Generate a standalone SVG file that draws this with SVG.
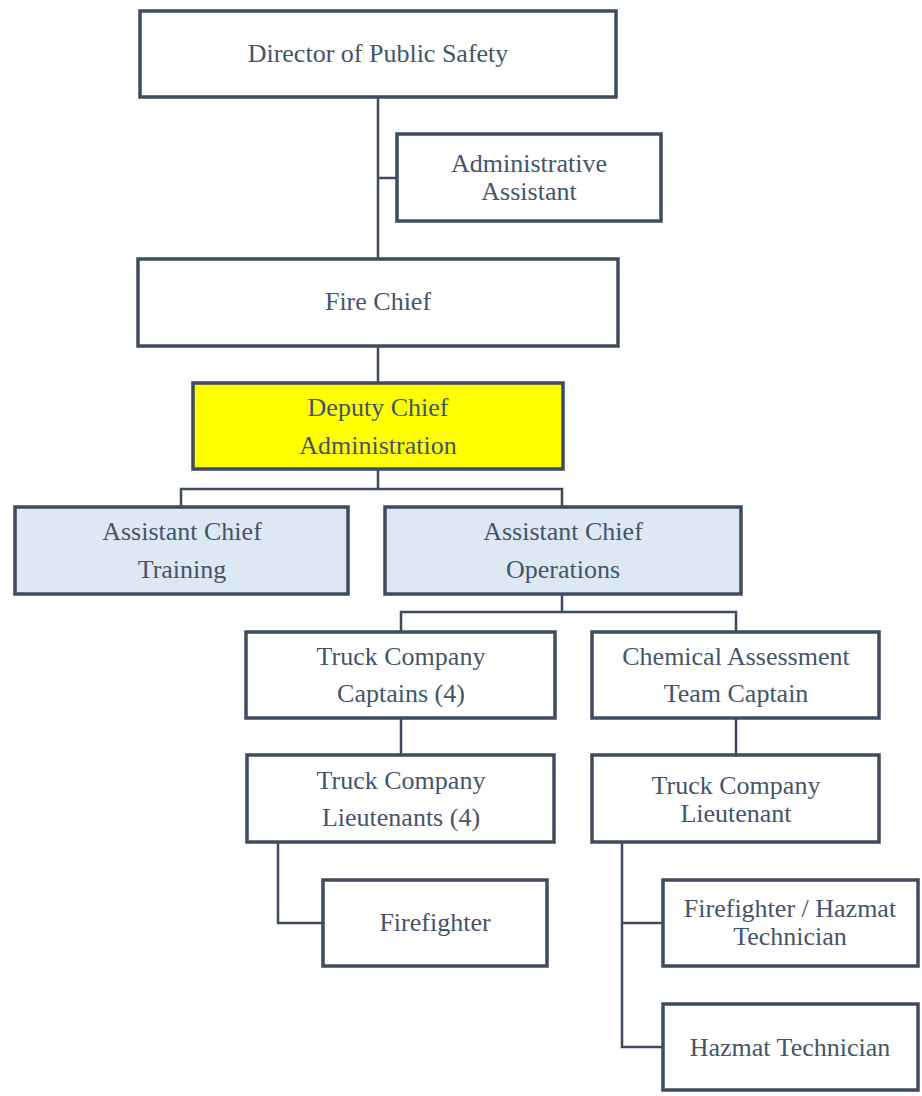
<svg xmlns="http://www.w3.org/2000/svg" width="922" height="1096" viewBox="0 0 922 1096">
<style>
.box{fill:#ffffff;stroke:#3f4b5e;stroke-width:3.5}
.yel{fill:#ffff00}
.blu{fill:#dde8f4}
.t{font-family:'Liberation Serif','DejaVu Serif',serif;font-size:26px;fill:#44546a;text-anchor:middle}
.c{fill:none;stroke:#3f4b5e;stroke-width:2.5}
</style>
<rect width="922" height="1096" fill="#ffffff"/>
<g id="connectors">
<path class="c" d="M378 97V259M378 178H397"/>
<path class="c" d="M378 346V383"/>
<path class="c" d="M378 469V489M181 507V489H562V507"/>
<path class="c" d="M562 594V612M401 632V612H736V632"/>
<path class="c" d="M401 718V755M736 718V755"/>
<path class="c" d="M278 842V923H323"/>
<path class="c" d="M622 842V1047H663M622 923H663"/>
</g>
<g id="director"><rect class="box" x="140" y="11" width="476" height="86"/><text class="t" x="378" y="62">Director of Public Safety</text></g>
<g id="admin-assistant"><rect class="box" x="397" y="134" width="264" height="87"/><text class="t" x="529" y="172">Administrative</text><text class="t" x="529" y="200">Assistant</text></g>
<g id="fire-chief"><rect class="box" x="138" y="259" width="480" height="87"/><text class="t" x="378" y="310">Fire Chief</text></g>
<g id="deputy-chief"><rect class="box yel" x="193" y="383" width="370" height="86"/><text class="t" x="378" y="416">Deputy Chief</text><text class="t" x="378" y="454">Administration</text></g>
<g id="ac-training"><rect class="box blu" x="15" y="507" width="333" height="87"/><text class="t" x="182" y="540">Assistant Chief</text><text class="t" x="182" y="578">Training</text></g>
<g id="ac-operations"><rect class="box blu" x="385" y="507" width="356" height="87"/><text class="t" x="563" y="540">Assistant Chief</text><text class="t" x="563" y="578">Operations</text></g>
<g id="truck-captains"><rect class="box" x="246" y="632" width="309" height="86"/><text class="t" x="401" y="665">Truck Company</text><text class="t" x="401" y="702">Captains (4)</text></g>
<g id="chem-captain"><rect class="box" x="592" y="632" width="287" height="86"/><text class="t" x="736" y="665">Chemical Assessment</text><text class="t" x="736" y="702">Team Captain</text></g>
<g id="truck-lieutenants"><rect class="box" x="247" y="755" width="307" height="87"/><text class="t" x="401" y="789">Truck Company</text><text class="t" x="401" y="826">Lieutenants (4)</text></g>
<g id="truck-lieutenant"><rect class="box" x="592" y="755" width="287" height="87"/><text class="t" x="736" y="794">Truck Company</text><text class="t" x="736" y="822">Lieutenant</text></g>
<g id="firefighter"><rect class="box" x="323" y="880" width="224" height="86"/><text class="t" x="435" y="931">Firefighter</text></g>
<g id="ff-hazmat"><rect class="box" x="663" y="880" width="255" height="86"/><text class="t" x="790" y="917">Firefighter / Hazmat</text><text class="t" x="790" y="945">Technician</text></g>
<g id="hazmat-tech"><rect class="box" x="663" y="1004" width="255" height="86"/><text class="t" x="790" y="1056">Hazmat Technician</text></g>
</svg>
